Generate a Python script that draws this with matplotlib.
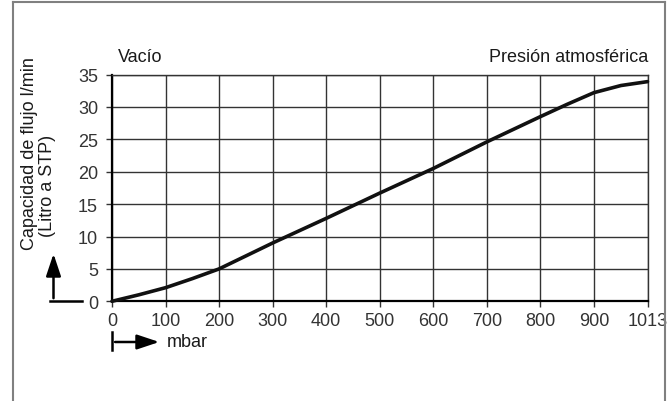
"""
Capacidad de flujo vs presion (mbar) - recreation of the reference chart
"""
import numpy as np
import matplotlib
matplotlib.use('Agg')
import matplotlib.pyplot as plt
from matplotlib.lines import Line2D
from matplotlib.patches import FancyArrowPatch

plt.rcParams['font.family'] = ['Liberation Sans', 'DejaVu Sans']

# Data

pressure = [0, 50, 100, 150, 200, 250, 300, 400, 500, 600, 700, 800, 850, 900, 957, 1013]
flow = [0, 1.0, 2.1, 3.5, 5.0, 7.0, 9.0, 12.8, 16.7, 20.5, 24.6, 28.5, 30.4, 32.2, 33.3, 33.9]

x_ticks = [0, 100, 200, 300, 400, 500, 600, 700, 800, 900, 1013]
y_ticks = [0, 5, 10, 15, 20, 25, 30, 35]

# last interval (900 -> 1013) is drawn with the same width as the others
x_pos_ticks = np.arange(len(x_ticks)) * 100
x_pos = np.interp(pressure, x_ticks, x_pos_ticks)

txt = '#1a1a1a'
fs = 13
W, H = 670, 402

fig = plt.figure(figsize=(6.7, 4.02), dpi=100)
ax = fig.add_axes([112 / W, 1 - 302.3 / H, (647.5 - 112) / W, (302.3 - 75.5) / H])

ax.plot(x_pos, flow, color='#111111', lw=2.6, solid_capstyle='round',
        solid_joinstyle='round', zorder=3, clip_on=False)

ax.set_xlim(0, 1000)
ax.set_ylim(0, 35)
ax.set_xticks(x_pos_ticks)
ax.set_xticklabels([str(t) for t in x_ticks])
ax.set_yticks(y_ticks)
ax.grid(True, color='#333333', lw=1.0)
ax.tick_params(direction='out', length=4, width=1.0, color='#333333',
               labelsize=fs, labelcolor='#333333', pad=4)
ax.tick_params(axis='y', pad=6)
for s in ['top', 'right']:
    ax.spines[s].set_color('#333333')
    ax.spines[s].set_linewidth(1.0)
for s in ['left', 'bottom']:
    ax.spines[s].set_color('black')
    ax.spines[s].set_linewidth(1.6)

# texts above the plot
fig.text(118 / W, 1 - 58 / H, 'Vacío', fontsize=fs, color=txt, ha='left', va='center')
fig.text(648 / W, 1 - 58 / H, 'Presión atmosférica', fontsize=fs, color=txt, ha='right', va='center')

# y label, two lines
fig.text(30 / W, 1 - 250 / H, 'Capacidad de flujo l/min', fontsize=fs, color=txt,
         rotation=90, rotation_mode='anchor', ha='left', va='center')
fig.text(48 / W, 1 - 237 / H, '(Litro a STP)', fontsize=fs, color=txt,
         rotation=90, rotation_mode='anchor', ha='left', va='center')

# little arrows
fig.add_artist(Line2D([50 / W, 82 / W], [1 - 302 / H, 1 - 302 / H], transform=fig.transFigure,
                      color='black', lw=1.8))
fig.add_artist(Line2D([112.3 / W, 112.3 / W], [1 - 333 / H, 1 - 351 / H], transform=fig.transFigure,
                      color='black', lw=1.8))
fig.patches.append(FancyArrowPatch(
    (53.5 / W, 1 - 302 / H), (53.5 / W, 1 - 252 / H), transform=fig.transFigure,
    arrowstyle='-|>,head_length=9,head_width=3', color='black', lw=1.8, mutation_scale=1.5))
fig.patches.append(FancyArrowPatch(
    (112.3 / W, 1 - 343 / H), (162 / W, 1 - 343 / H), transform=fig.transFigure,
    arrowstyle='-|>,head_length=9,head_width=3', color='black', lw=1.8, mutation_scale=1.5))
fig.text(167 / W, 1 - 343 / H, 'mbar', fontsize=fs, color=txt, ha='left', va='center')

# gray frame around the figure (no bottom line)
frame = dict(transform=fig.transFigure, color='#808080', lw=1.5)
fig.add_artist(Line2D([12.7 / W, 12.7 / W], [0, 1 - 2.7 / H], **frame))
fig.add_artist(Line2D([12.7 / W, 665 / W], [1 - 2.7 / H, 1 - 2.7 / H], **frame))
fig.add_artist(Line2D([665 / W, 665 / W], [0, 1 - 2.7 / H], **frame))

fig.savefig('out.png', dpi=100)
